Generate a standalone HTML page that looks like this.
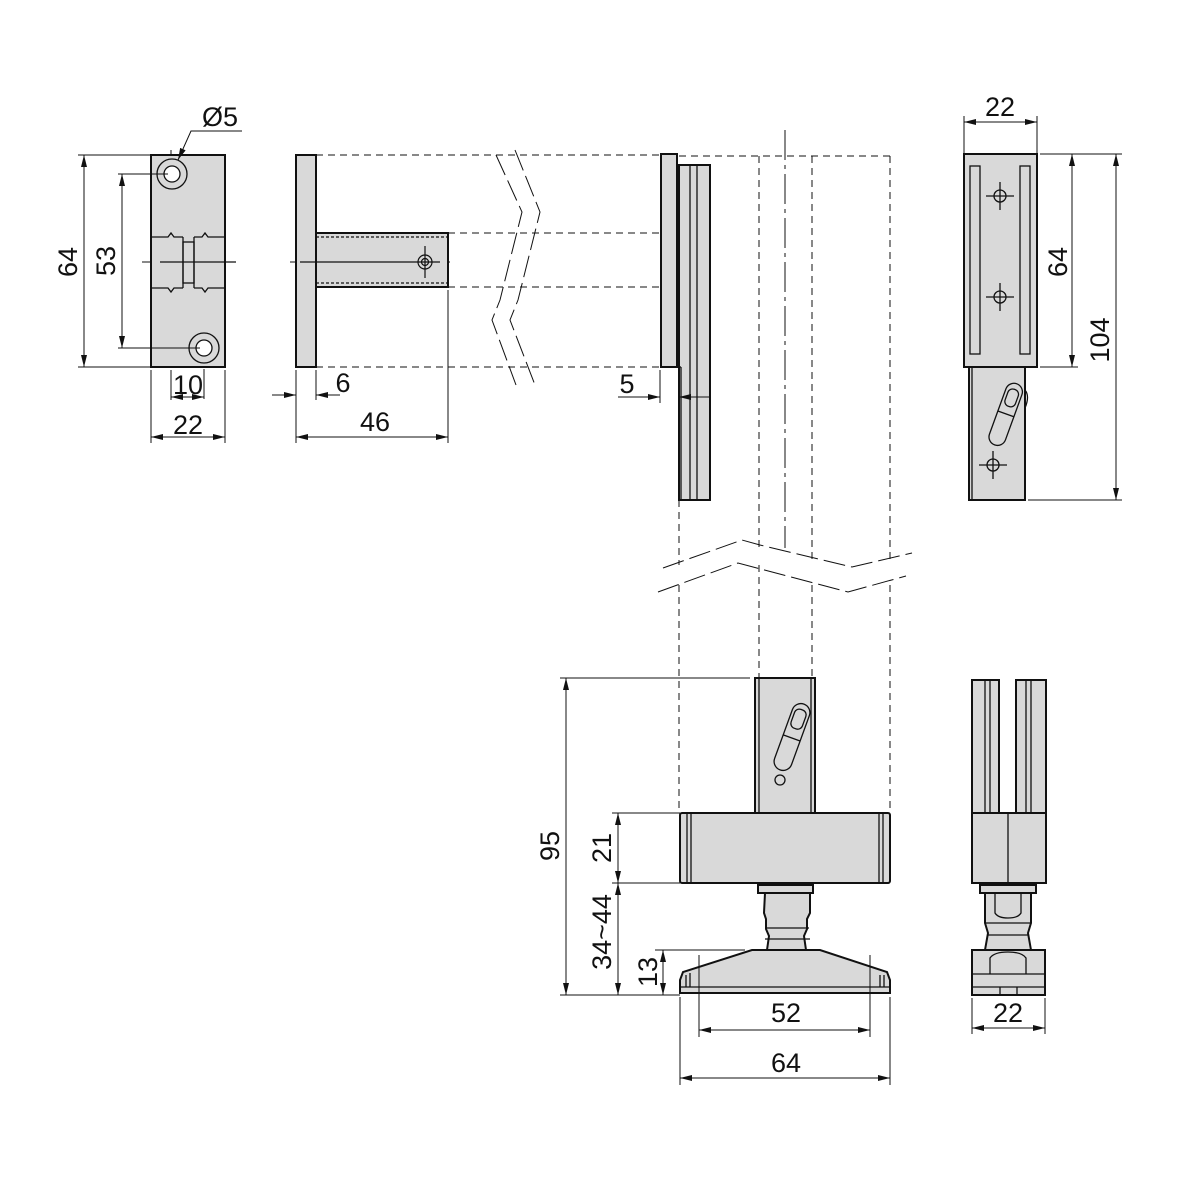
<!DOCTYPE html>
<html><head><meta charset="utf-8"><style>
html,body{margin:0;padding:0;background:#fff}
svg{display:block}
text{font-family:"Liberation Sans",Arial,sans-serif;font-size:27px;fill:#111}
</style></head><body>
<svg width="1181" height="1181" viewBox="0 0 1181 1181" xmlns="http://www.w3.org/2000/svg">
<defs>
<marker id="a" viewBox="0 0 12 6" refX="12" refY="3" markerWidth="12" markerHeight="6" orient="auto-start-reverse" markerUnits="userSpaceOnUse"><path d="M0,0L12,3L0,6z" fill="#111"/></marker>
</defs>
<g fill="none" stroke="#111" stroke-width="1">
<g stroke-dasharray="7,5">
<line x1="316" y1="155" x2="661" y2="155"/>
<line x1="448" y1="233" x2="661" y2="233"/>
<line x1="448" y1="287" x2="661" y2="287"/>
<line x1="316" y1="367" x2="661" y2="367"/>
<line x1="679" y1="156" x2="890" y2="156"/>
<line x1="759" y1="156" x2="759" y2="550"/>
<line x1="812" y1="156" x2="812" y2="560"/>
<line x1="890" y1="156" x2="890" y2="560"/>
<line x1="679" y1="500" x2="679" y2="565"/>
<line x1="679" y1="585" x2="679" y2="813"/>
<line x1="759" y1="565" x2="759" y2="678"/>
<line x1="812" y1="585" x2="812" y2="678"/>
<line x1="890" y1="585" x2="890" y2="813"/>
</g>
<g stroke-dasharray="22,6">
<polyline points="663,568 742,540 760,545 852,567 912,553"/>
<polyline points="658,592 738,563 848,592 906,576"/>
<polyline points="496,155 522,212 500,300 492,320 516,385"/>
<polyline points="515,150 540,212 518,300 510,320 535,385"/>
</g>
<g stroke-dasharray="30,5,4,5">
<line x1="142" y1="262" x2="236" y2="262"/>
<line x1="171" y1="150" x2="171" y2="402"/>
<line x1="204" y1="325" x2="204" y2="402"/>
<line x1="290" y1="262" x2="450" y2="262"/>
<line x1="785" y1="130" x2="785" y2="548"/>
</g>
</g>
<!-- LEFT VIEW -->
<g stroke="#111" stroke-width="2" fill="#d9d9d9">
<rect x="151" y="155" width="74" height="212"/>
</g>
<g stroke="#111" stroke-width="1.3" fill="none">
<path d="M151,237H168l3,-4 3,4h9 M194,237h8l3,-4 3,4h17"/>
<path d="M151,288H168l3,4 3,-4h9 M194,288h8l3,4 3,-4h17"/>
<rect x="183" y="242" width="11" height="41"/>
<line x1="183" y1="237" x2="183" y2="288"/><line x1="194" y1="237" x2="194" y2="288"/>
<circle cx="172" cy="174" r="15"/><circle cx="172" cy="174" r="8" fill="#fff"/>
<circle cx="204" cy="348" r="15"/><circle cx="204" cy="348" r="8" fill="#fff"/>
<line x1="160" y1="262" x2="236" y2="262"/>
</g>
<!-- SIDE VIEW -->
<g stroke="#111" stroke-width="2" fill="#d9d9d9">
<rect x="296" y="155" width="20" height="212"/>
<rect x="316" y="233" width="132" height="54"/>
</g>
<g stroke="#111" stroke-width="1.2" fill="none">
<line x1="316" y1="237" x2="448" y2="237" stroke-dasharray="3,2"/>
<line x1="316" y1="283" x2="448" y2="283" stroke-dasharray="3,2"/>
<circle cx="425" cy="262" r="7"/><circle cx="425" cy="262" r="3.5"/>
<line x1="425" y1="246" x2="425" y2="278"/><line x1="300" y1="262" x2="440" y2="262"/>
</g>
<!-- MID PLATE -->
<g stroke="#111" stroke-width="2" fill="#d9d9d9">
<rect x="661" y="154" width="16" height="213"/>
<rect x="679" y="165" width="31" height="335"/>
</g>
<g stroke="#111" stroke-width="1.3"><line x1="690" y1="165" x2="690" y2="500"/><line x1="697" y1="165" x2="697" y2="500"/><line x1="677" y1="367" x2="681" y2="367"/><line x1="681" y1="367" x2="681" y2="500"/></g>
<!-- BOTTOM FRONT -->
<g stroke="#111" stroke-width="2" fill="#d9d9d9">
<rect x="755" y="678" width="60" height="136"/>
<rect x="680" y="813" width="210" height="70" rx="2"/>
<rect x="758" y="885" width="55" height="8"/>
<path d="M765,893H810v20l-3,6v10l-3,7 2,14H767l2,-14 -3,-7v-10l-2,-6z"/>
<path d="M752,950H820L887,972 890,980V993H680V980L683,972z"/>
</g>
<g stroke="#111" stroke-width="1.3" fill="none">
<line x1="759" y1="678" x2="759" y2="813"/><line x1="811" y1="678" x2="811" y2="813"/>
<line x1="687" y1="813" x2="687" y2="883"/><line x1="691" y1="813" x2="691" y2="883"/>
<line x1="879" y1="813" x2="879" y2="883"/><line x1="883" y1="813" x2="883" y2="883"/>
<line x1="766" y1="928" x2="809" y2="928"/><line x1="765" y1="939" x2="810" y2="939"/>
<line x1="680" y1="987" x2="890" y2="987"/>
<line x1="686" y1="975" x2="686" y2="987"/><line x1="690" y1="973" x2="690" y2="987"/>
<line x1="880" y1="975" x2="880" y2="987"/><line x1="884" y1="975" x2="884" y2="987"/>
<g transform="rotate(20 792 737)" fill="#d9d9d9"><rect x="783" y="702" width="18" height="70" rx="9"/><rect x="786" y="708" width="12" height="20" rx="5"/><line x1="783" y1="738" x2="801" y2="738"/></g>
<circle cx="780" cy="780" r="5"/>
</g>
<!-- BOTTOM SIDE -->
<g stroke="#111" stroke-width="2" fill="#d9d9d9">
<rect x="972" y="680" width="27" height="135"/>
<rect x="1016" y="680" width="30" height="135"/>
<rect x="972" y="813" width="74" height="70"/>
<rect x="980" y="885" width="56" height="8"/>
<path d="M985,893H1031v30l-3,10 3,17H985l3,-17 -3,-10z"/>
<rect x="972" y="950" width="73" height="45"/>
</g>
<g stroke="#111" stroke-width="1.3" fill="none">
<line x1="985" y1="680" x2="985" y2="813"/><line x1="990" y1="680" x2="990" y2="813"/>
<line x1="1026" y1="680" x2="1026" y2="813"/><line x1="1031" y1="680" x2="1031" y2="813"/>
<line x1="1008" y1="813" x2="1008" y2="883"/>
<path d="M995,893v20q3,5 13,5q10,0 13,-5v-20"/>
<line x1="986" y1="923" x2="1030" y2="923"/><line x1="987" y1="935" x2="1029" y2="935"/>
<path d="M990,974v-16q4,-6 18,-6q14,0 18,6v16"/>
<line x1="972" y1="974" x2="1045" y2="974"/><line x1="972" y1="987" x2="1045" y2="987"/>
<line x1="1000" y1="987" x2="1000" y2="995"/><line x1="1017" y1="987" x2="1017" y2="995"/>
</g>
<!-- RIGHT TOP VIEW -->
<g stroke="#111" stroke-width="2" fill="#d9d9d9">
<rect x="964" y="154" width="73" height="213"/>
<rect x="969" y="367" width="56" height="133"/>
</g>
<g stroke="#111" stroke-width="1.3" fill="none">
<rect x="970" y="166" width="10" height="188"/><rect x="1020" y="166" width="10" height="188"/>
<circle cx="1000" cy="196" r="6"/><line x1="986" y1="196" x2="1014" y2="196"/><line x1="1000" y1="182" x2="1000" y2="210"/>
<circle cx="1000" cy="297" r="6"/><line x1="986" y1="297" x2="1014" y2="297"/><line x1="1000" y1="283" x2="1000" y2="311"/>
<line x1="972" y1="367" x2="972" y2="500"/>
<circle cx="993" cy="465" r="6"/><line x1="979" y1="465" x2="1007" y2="465"/><line x1="993" y1="451" x2="993" y2="479"/>
<g transform="rotate(20 1006 415)" fill="#d9d9d9"><rect x="997" y="382" width="17" height="65" rx="8.5"/><rect x="1000" y="388" width="11" height="18" rx="5"/><line x1="997" y1="414" x2="1014" y2="414"/></g>
<path d="M1025,390q5,6 0,18"/>
</g>
<!-- DIMENSIONS -->
<g stroke="#111" stroke-width="1" fill="none">
<line x1="78" y1="155" x2="151" y2="155"/><line x1="78" y1="367" x2="151" y2="367"/>
<line x1="84" y1="155" x2="84" y2="367" marker-start="url(#a)" marker-end="url(#a)"/>
<line x1="118" y1="174" x2="168" y2="174"/><line x1="118" y1="348" x2="200" y2="348"/>
<line x1="122" y1="174" x2="122" y2="348" marker-start="url(#a)" marker-end="url(#a)"/>
<line x1="151" y1="370" x2="151" y2="443"/><line x1="225" y1="370" x2="225" y2="443"/>
<line x1="151" y1="437" x2="225" y2="437" marker-start="url(#a)" marker-end="url(#a)"/>
<line x1="171" y1="397" x2="204" y2="397" marker-start="url(#a)" marker-end="url(#a)"/>
<polyline points="242,131 191,131 178,160" marker-end="url(#a)"/>
<line x1="296" y1="370" x2="296" y2="443"/><line x1="316" y1="370" x2="316" y2="400"/><line x1="448" y1="290" x2="448" y2="443"/>
<line x1="272" y1="395" x2="296" y2="395" marker-end="url(#a)"/>
<line x1="340" y1="395" x2="316" y2="395" marker-end="url(#a)"/>
<line x1="296" y1="437" x2="448" y2="437" marker-start="url(#a)" marker-end="url(#a)"/>
<line x1="660" y1="370" x2="660" y2="403"/>
<line x1="618" y1="397" x2="660" y2="397" marker-end="url(#a)"/>
<line x1="710" y1="397" x2="679" y2="397" marker-end="url(#a)"/>
<line x1="964" y1="116" x2="964" y2="154"/><line x1="1037" y1="116" x2="1037" y2="154"/>
<line x1="964" y1="122" x2="1037" y2="122" marker-start="url(#a)" marker-end="url(#a)"/>
<line x1="1040" y1="154" x2="1122" y2="154"/><line x1="1040" y1="367" x2="1078" y2="367"/><line x1="1028" y1="500" x2="1122" y2="500"/>
<line x1="1072" y1="154" x2="1072" y2="367" marker-start="url(#a)" marker-end="url(#a)"/>
<line x1="1116" y1="154" x2="1116" y2="500" marker-start="url(#a)" marker-end="url(#a)"/>
<line x1="560" y1="678" x2="750" y2="678"/><line x1="560" y1="995" x2="680" y2="995"/>
<line x1="566" y1="678" x2="566" y2="995" marker-start="url(#a)" marker-end="url(#a)"/>
<line x1="612" y1="813" x2="680" y2="813"/><line x1="612" y1="883" x2="680" y2="883"/>
<line x1="618" y1="813" x2="618" y2="883" marker-start="url(#a)" marker-end="url(#a)"/>
<line x1="618" y1="883" x2="618" y2="995" marker-start="url(#a)" marker-end="url(#a)"/>
<line x1="655" y1="950" x2="745" y2="950"/>
<line x1="663" y1="950" x2="663" y2="995" marker-start="url(#a)" marker-end="url(#a)"/>
<line x1="699" y1="955" x2="699" y2="1037"/><line x1="870" y1="955" x2="870" y2="1037"/>
<line x1="699" y1="1030" x2="870" y2="1030" marker-start="url(#a)" marker-end="url(#a)"/>
<line x1="680" y1="997" x2="680" y2="1085"/><line x1="890" y1="997" x2="890" y2="1085"/>
<line x1="680" y1="1078" x2="890" y2="1078" marker-start="url(#a)" marker-end="url(#a)"/>
<line x1="972" y1="998" x2="972" y2="1034"/><line x1="1045" y1="998" x2="1045" y2="1034"/>
<line x1="972" y1="1028" x2="1045" y2="1028" marker-start="url(#a)" marker-end="url(#a)"/>
</g>
<text x="220" y="126" text-anchor="middle">Ø5</text>
<text x="188" y="394" text-anchor="middle">10</text>
<text x="188" y="434" text-anchor="middle">22</text>
<text x="343" y="392" text-anchor="middle">6</text>
<text x="375" y="431" text-anchor="middle">46</text>
<text x="627" y="393" text-anchor="middle">5</text>
<text x="1000" y="116" text-anchor="middle">22</text>
<text x="786" y="1022" text-anchor="middle">52</text>
<text x="786" y="1072" text-anchor="middle">64</text>
<text x="1008" y="1022" text-anchor="middle">22</text>
<text transform="translate(77,262) rotate(-90)" text-anchor="middle">64</text>
<text transform="translate(115,261) rotate(-90)" text-anchor="middle">53</text>
<text transform="translate(1067,262) rotate(-90)" text-anchor="middle">64</text>
<text transform="translate(1109,340) rotate(-90)" text-anchor="middle">104</text>
<text transform="translate(559,846) rotate(-90)" text-anchor="middle">95</text>
<text transform="translate(611,848) rotate(-90)" text-anchor="middle">21</text>
<text transform="translate(611,932) rotate(-90)" text-anchor="middle">34~44</text>
<text transform="translate(657,972) rotate(-90)" text-anchor="middle">13</text>
</svg>
</body></html>
